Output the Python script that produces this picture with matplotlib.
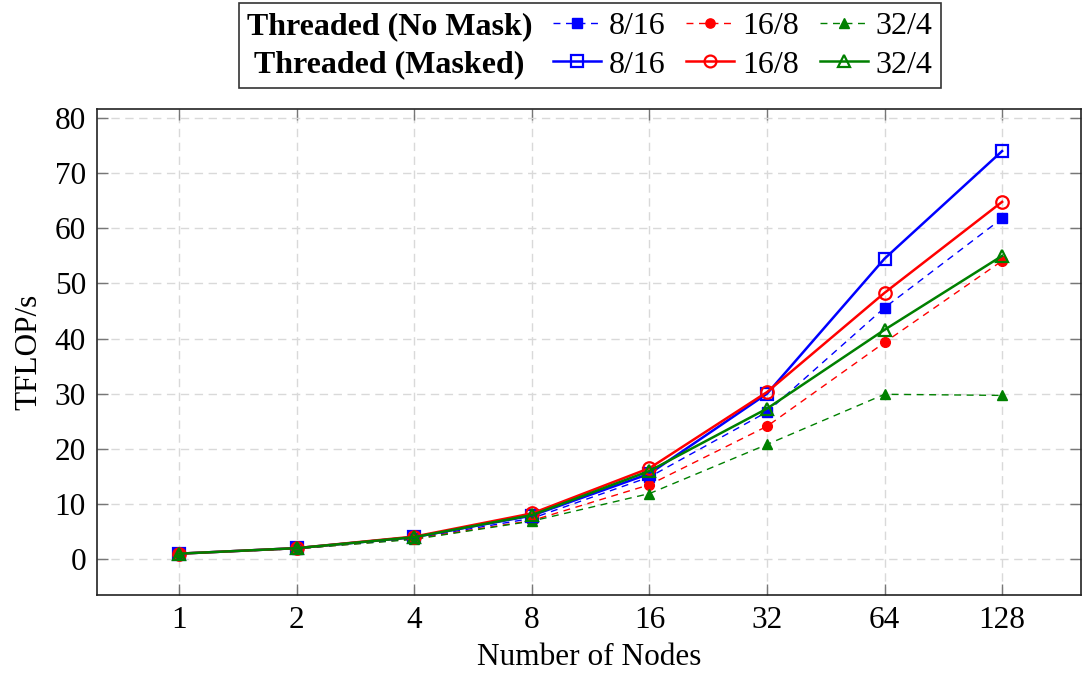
import matplotlib
matplotlib.use("Agg")
import matplotlib.pyplot as plt
from matplotlib.lines import Line2D

nodes = ["1", "2", "4", "8", "16", "32", "64", "128"]

nomask_8_16 = [1.0, 2.0, 3.8, 7.4, 14.9, 26.7, 45.6, 61.8]
nomask_16_8 = [1.0, 1.9, 3.7, 7.0, 13.5, 24.1, 39.3, 54.1]
nomask_32_4 = [1.0, 1.9, 3.6, 6.9, 11.9, 20.8, 29.9, 29.7]
masked_8_16 = [1.0, 2.0, 4.0, 7.9, 15.5, 30.0, 54.5, 74.0]
masked_16_8 = [1.0, 2.0, 4.1, 8.3, 16.5, 30.3, 48.3, 64.8]
masked_32_4 = [1.0, 2.0, 4.0, 8.0, 16.0, 27.3, 41.6, 55.0]

yticks = [0, 10, 20, 30, 40, 50, 60, 70, 80]

plt.rcParams['font.family'] = ['Liberation Serif', 'DejaVu Serif']

fig = plt.figure(figsize=(10.83, 6.77), dpi=100)
ax = fig.add_axes([0.0896, 0.1211, 0.9084, 0.7184])

x = list(range(len(nodes)))
blue, red, green = '#0000ff', '#ff0000', '#008000'

h1, = ax.plot(x, nomask_8_16, color=blue, ls=(0, (5, 4)), lw=1.0, marker='s', ms=7, label='8/16')
h2, = ax.plot(x, nomask_16_8, color=red, ls=(0, (5, 4)), lw=1.0, marker='o', ms=7, label='16/8')
h3, = ax.plot(x, nomask_32_4, color=green, ls=(0, (5, 4)), lw=1.0, marker='^', ms=7, label='32/4')
h4, = ax.plot(x, masked_8_16, color=blue, lw=1.8, marker='s', ms=9, mfc='none', mew=1.6, label='8/16')
h5, = ax.plot(x, masked_16_8, color=red, lw=1.8, marker='o', ms=9, mfc='none', mew=1.6, label='16/8')
h6, = ax.plot(x, masked_32_4, color=green, lw=1.8, marker='^', ms=9, mfc='none', mew=1.6, label='32/4')

ax.set_xlim(-0.7, 7.67)
ax.set_ylim(-6.5, 81.7)
ax.set_xticks(x)
ax.set_xticklabels(nodes)
ax.set_yticks(yticks)
ax.tick_params(axis='both', direction='in', length=8, width=1.0, color='#777777',
               labelsize=22.5, top=True, right=True, pad=8)
ax.grid(True, color='#d9d9d9', ls=(0, (6, 4)), lw=1.0)
ax.set_axisbelow(True)
for s in ax.spines.values():
    s.set_linewidth(1.2)
    s.set_color('#222222')

ax.set_xlabel('Number of Nodes', fontsize=22.5, labelpad=6)
ax.set_ylabel('TFLOP/s', fontsize=22.5, labelpad=8)

blank = Line2D([], [], lw=0, marker=None)
handles = [blank, blank, h1, h4, h2, h5, h3, h6]
labels = ['Threaded (No Mask)', 'Threaded (Masked)', '8/16', '8/16', '16/8', '16/8', '32/4', '32/4']
leg = fig.legend(handles, labels, ncol=4, loc='upper center', bbox_to_anchor=(0.5445, 0.995),
                 fontsize=23, frameon=True, fancybox=False, edgecolor='black',
                 handlelength=1.5, handletextpad=0.25, columnspacing=0.65,
                 borderpad=0.25, labelspacing=0.3, borderaxespad=0, markerscale=0.95)
leg.get_frame().set_linewidth(1.2)
for t in leg.get_texts()[:2]:
    t.set_fontweight('bold')
try:
    cols = leg._legend_handle_box.get_children()
    cols[0].align = 'center'
    for hp in cols[0].get_children():
        da = hp.get_children()[0]
        da.width = 0
        hp.sep = 0
except Exception:
    pass

fig.savefig('out.png', dpi=100)
